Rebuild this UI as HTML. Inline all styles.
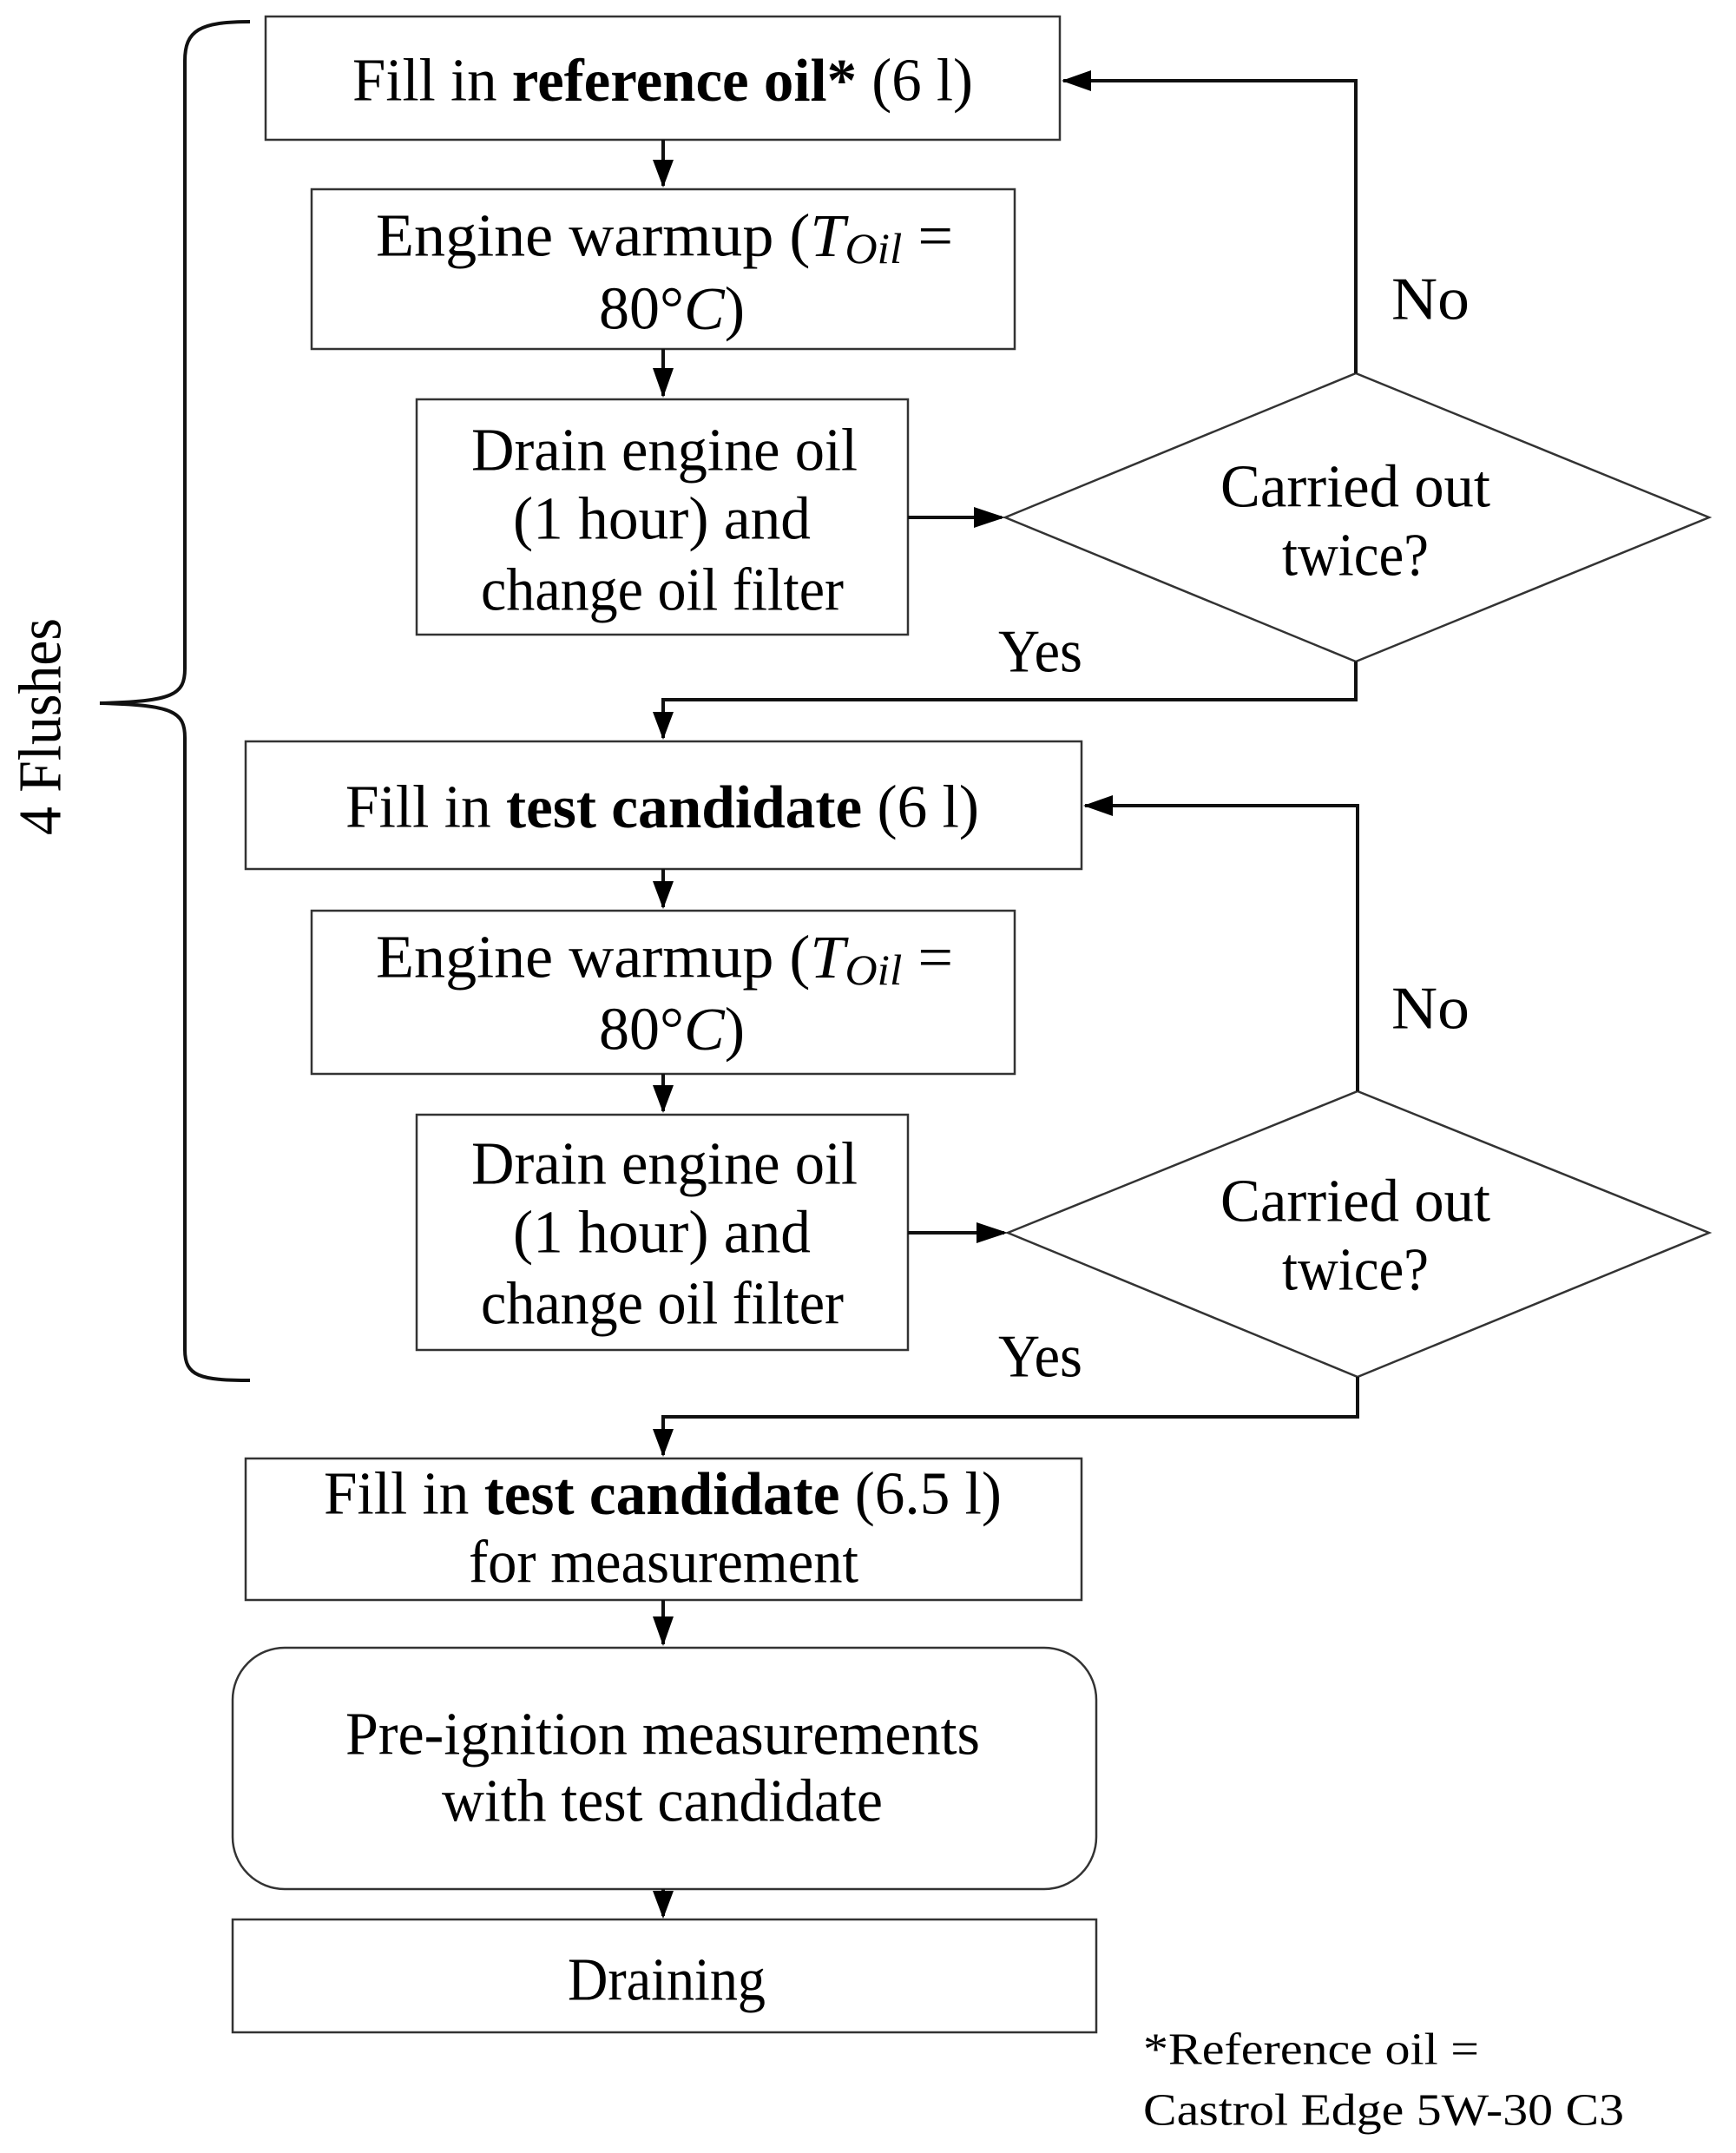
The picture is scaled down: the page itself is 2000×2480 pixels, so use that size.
<!DOCTYPE html>
<html><head><meta charset="utf-8"><style>html,body{margin:0;padding:0;background:#fff}svg{display:block}</style></head>
<body>
<svg width="2000" height="2480" viewBox="0 0 2000 2480" xmlns="http://www.w3.org/2000/svg" font-family="'Liberation Serif', serif" fill="#000">
<defs>
<marker id="a" viewBox="0 0 10 10" refX="10" refY="5" markerWidth="7" markerHeight="7" orient="auto" markerUnits="userSpaceOnUse"><path d="M0,0L10,5L0,10z"/></marker>
</defs>
<g fill="none" stroke="#333" stroke-width="2.5">
<rect x="306" y="19" width="915" height="142"/>
<rect x="359" y="218" width="810" height="184"/>
<rect x="480" y="460" width="566" height="271"/>
<polygon points="1158,596 1562,430 1969,596 1562,762"/>
<rect x="283" y="854" width="963" height="147"/>
<rect x="359" y="1049" width="810" height="188"/>
<rect x="480" y="1284" width="566" height="271"/>
<polygon points="1161,1420 1564,1257 1969,1420 1564,1586"/>
<rect x="283" y="1680" width="963" height="163"/>
<rect x="268" y="1898" width="995" height="278" rx="60"/>
<rect x="268" y="2211" width="995" height="130"/>
<path d="M288,25 C230,25 213,35 213,70 L213,770 C213,800 200,808 115,810 C200,812 213,820 213,850 L213,1555 C213,1585 230,1590 288,1590" stroke="#111" stroke-width="4"/>
</g>
<g stroke="#111" stroke-width="4" fill="none">
<path d="M764,161 L764,214"/>
<path d="M764,402 L764,456"/>
<path d="M1046,596 L1154,596"/>
<path d="M1562,430 L1562,93 L1225,93"/>
<path d="M1562,762 L1562,806 L764,806 L764,850"/>
<path d="M764,1001 L764,1045"/>
<path d="M764,1237 L764,1280"/>
<path d="M1046,1420 L1157,1420"/>
<path d="M1564,1257 L1564,928 L1250,928"/>
<path d="M1564,1586 L1564,1632 L764,1632 L764,1676"/>
<path d="M764,1843 L764,1894"/>
<path d="M764,2176 L764,2207"/>
</g>
<g>
<path d="M752,184 L776,184 L764,216z"/>
<path d="M752,424 L776,424 L764,458z"/>
<path d="M1122,584 L1122,608 L1158,596z"/>
<path d="M1257,81 L1257,105 L1223,93z"/>
<path d="M752,820 L776,820 L764,852z"/>
<path d="M752,1015 L776,1015 L764,1047z"/>
<path d="M752,1250 L776,1250 L764,1282z"/>
<path d="M1125,1408 L1125,1432 L1161,1420z"/>
<path d="M1282,916 L1282,940 L1248,928z"/>
<path d="M752,1646 L776,1646 L764,1678z"/>
<path d="M752,1862 L776,1862 L764,1896z"/>
<path d="M752,2178 L776,2178 L764,2210z"/>
</g>
<g font-size="70" dominant-baseline="central" lengthAdjust="spacingAndGlyphs">
<text x="406" y="93" textLength="715" lengthAdjust="spacingAndGlyphs">Fill  in <tspan font-weight="bold">reference oil*</tspan> (6 l)</text>
<text x="433" y="272" textLength="665" lengthAdjust="spacingAndGlyphs">Engine  warmup  (<tspan font-style="italic">T</tspan><tspan font-style="italic" font-size="50" dy="14">Oil</tspan><tspan dy="-14"> =</tspan></text>
<text x="690" y="356" textLength="168" lengthAdjust="spacingAndGlyphs">80°<tspan font-style="italic">C</tspan>)</text>
<text x="543" y="519" textLength="445" lengthAdjust="spacingAndGlyphs">Drain engine  oil</text>
<text x="591" y="598" textLength="343" lengthAdjust="spacingAndGlyphs">(1 hour)  and</text>
<text x="554" y="680" textLength="418" lengthAdjust="spacingAndGlyphs">change  oil  filter</text>
<text x="1406" y="561" textLength="311" lengthAdjust="spacingAndGlyphs">Carried out</text>
<text x="1477" y="640" textLength="169" lengthAdjust="spacingAndGlyphs">twice?</text>
<text x="1603" y="345" textLength="90" lengthAdjust="spacingAndGlyphs">No</text>
<text x="1150" y="751" textLength="97" lengthAdjust="spacingAndGlyphs">Yes</text>
<text x="398" y="930" textLength="730" lengthAdjust="spacingAndGlyphs">Fill  in <tspan font-weight="bold">test candidate</tspan>  (6 l)</text>
<text x="433" y="1103" textLength="665" lengthAdjust="spacingAndGlyphs">Engine  warmup  (<tspan font-style="italic">T</tspan><tspan font-style="italic" font-size="50" dy="14">Oil</tspan><tspan dy="-14"> =</tspan></text>
<text x="690" y="1186" textLength="168" lengthAdjust="spacingAndGlyphs">80°<tspan font-style="italic">C</tspan>)</text>
<text x="543" y="1341" textLength="445" lengthAdjust="spacingAndGlyphs">Drain engine  oil</text>
<text x="591" y="1420" textLength="343" lengthAdjust="spacingAndGlyphs">(1 hour)  and</text>
<text x="554" y="1502" textLength="418" lengthAdjust="spacingAndGlyphs">change  oil  filter</text>
<text x="1406" y="1384" textLength="311" lengthAdjust="spacingAndGlyphs">Carried out</text>
<text x="1477" y="1463" textLength="169" lengthAdjust="spacingAndGlyphs">twice?</text>
<text x="1603" y="1162" textLength="90" lengthAdjust="spacingAndGlyphs">No</text>
<text x="1150" y="1563" textLength="97" lengthAdjust="spacingAndGlyphs">Yes</text>
<text x="373" y="1721" textLength="781" lengthAdjust="spacingAndGlyphs">Fill  in <tspan font-weight="bold">test candidate</tspan>  (6.5 l)</text>
<text x="540" y="1800" textLength="449" lengthAdjust="spacingAndGlyphs">for measurement</text>
<text x="398" y="1998" textLength="731" lengthAdjust="spacingAndGlyphs">Pre-ignition  measurements</text>
<text x="509" y="2075" textLength="508" lengthAdjust="spacingAndGlyphs">with  test candidate</text>
<text x="654" y="2281" textLength="228" lengthAdjust="spacingAndGlyphs">Draining</text>
<text transform="translate(47,962) rotate(-90)" x="0" y="0" textLength="250" lengthAdjust="spacingAndGlyphs">4 Flushes</text>
</g>
<g font-size="52" dominant-baseline="central">
<text x="1317" y="2361" textLength="387" lengthAdjust="spacingAndGlyphs">*Reference oil =</text>
<text x="1317" y="2431" textLength="554" lengthAdjust="spacingAndGlyphs">Castrol Edge 5W-30 C3</text>
</g>
</svg>
</body></html>
